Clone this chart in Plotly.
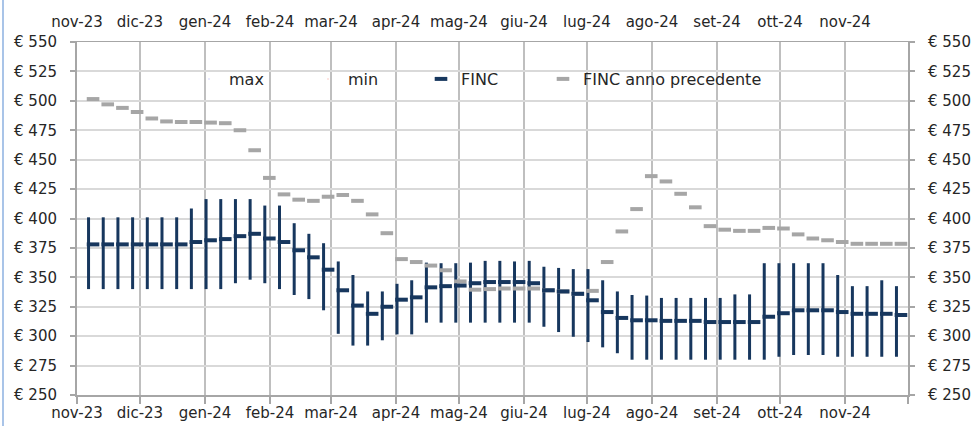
import plotly.graph_objects as go
import pandas as pd

# ---- data (weekly observations, Monday dates) ----
week_dates = pd.date_range("2023-11-06", periods=56, freq="7D")

max_vals = [401, 401, 401, 401, 401, 401, 401, 408.5, 416.5, 416.5,
            416.5, 416.5, 411, 411, 396, 387, 379, 363.5, 352, 338,
            338, 344.5, 347.5, 362.5, 362, 362, 362.5, 364, 364, 363.5,
            364, 359, 358, 357, 357, 347.5, 338, 335, 334.5, 332.5,
            332.5, 332.5, 332.5, 332.5, 335.5, 335.5, 362, 362, 362, 362,
            362, 352, 342.5, 342.5, 347.5, 342.5]

min_vals = [340, 340, 340, 340, 340, 340, 340, 340, 340, 340,
            345, 348, 345, 340, 335, 331.5, 322, 302, 292, 292,
            296.5, 301.5, 301.5, 311.5, 311.5, 311.5, 311.5, 311.5, 311.5, 311.5,
            311.5, 308, 303.5, 299.5, 295, 290.5, 285.5, 280, 280, 280,
            280, 280, 280, 280, 280, 280, 280, 282.5, 284, 284,
            284, 282.5, 282.5, 282.5, 282.5, 282.5]

finc_vals = [378, 378, 378, 378, 378, 378, 378, 380, 381.5, 382.5,
             385, 387, 383, 380, 373, 367, 356.5, 339, 326, 319,
             325, 331, 333, 341.5, 342.5, 343, 345, 346, 346, 346,
             345, 339, 338, 336, 330.5, 320.5, 315.5, 313.5, 313.5, 313,
             313, 313, 312, 312, 312, 312, 316.5, 319.5, 322, 322,
             322, 320.5, 319, 319, 319, 318]

finc_prev_vals = [501.5, 497, 494, 490.5, 485, 482.5, 482, 482, 481.5, 481,
                  475, 458, 434.5, 420.5, 416, 415, 418.5, 420, 415, 403.5,
                  387.5, 365.5, 363, 360, 356, 346.5, 339.5, 340, 340.5, 340.5,
                  340.5, 339, 338, 336, 338.5, 363, 389, 408, 436, 431.5,
                  421, 409.5, 393.5, 390.5, 389.5, 389.5, 392, 391.5, 386.5, 383,
                  381.5, 380, 378.5, 378.5, 378.5, 378.5]

month_ticks = ["2023-11-01", "2023-12-01", "2024-01-01", "2024-02-01", "2024-03-01",
               "2024-04-01", "2024-05-01", "2024-06-01", "2024-07-01", "2024-08-01",
               "2024-09-01", "2024-10-01", "2024-11-01", "2024-12-01"]
month_labels = ["nov-23", "dic-23", "gen-24", "feb-24", "mar-24", "apr-24", "mag-24",
                "giu-24", "lug-24", "ago-24", "set-24", "ott-24", "nov-24", ""]

# ---- styling ----
NAVY = "#17375E"
GRAY = "#A6A6A6"
TEXT = "#262626"
FONT = "DejaVu Sans"

x_bar = week_dates + pd.Timedelta(hours=12)          # centre of the day slot
x_dash = x_bar + pd.Timedelta(days=2.15)             # dash drawn to the right of the bar

hl_x, hl_y = [], []
for d, lo, hi in zip(x_bar, min_vals, max_vals):
    hl_x += [d, d, None]
    hl_y += [lo, hi, None]

fig = go.Figure()

# max / min series (markers invisible, shown in legend by name only)
fig.add_trace(go.Scatter(x=x_bar, y=max_vals, name="max", mode="markers",
                         marker=dict(opacity=0, size=1), xaxis="x2", yaxis="y",
                         legend="legend", hoverinfo="skip"))
fig.add_trace(go.Scatter(x=x_bar, y=min_vals, name="min", mode="markers",
                         marker=dict(opacity=0, size=1), xaxis="x", yaxis="y2",
                         legend="legend2", hoverinfo="skip"))
# high-low lines
fig.add_trace(go.Scatter(x=hl_x, y=hl_y, mode="lines", showlegend=False,
                         line=dict(color=NAVY, width=3), hoverinfo="skip"))
# previous year
fig.add_trace(go.Scatter(x=x_dash, y=finc_prev_vals, name="FINC anno precedente",
                         mode="markers", legend="legend4",
                         marker=dict(symbol="line-ew", size=9,
                                     line=dict(color=GRAY, width=4), color=GRAY)))
# FINC
fig.add_trace(go.Scatter(x=x_dash, y=finc_vals, name="FINC", mode="markers",
                         legend="legend3",
                         marker=dict(symbol="line-ew", size=9,
                                     line=dict(color=NAVY, width=4), color=NAVY)))

L, R, T, B = 77, 65, 42, 31
PW, PH = 973 - L - R, 426 - T - B


def px_x(px):
    return (px - L) / PW


def px_y(py):
    return (426 - B - py) / PH


def legend_at(text_left_px):
    return dict(orientation="h", x=px_x(text_left_px - 39), y=px_y(62),
                xanchor="left", yanchor="top", bgcolor="rgba(0,0,0,0)",
                font=dict(size=16, color=TEXT, family=FONT), itemwidth=30)


xr = ["2023-11-01", "2024-12-01"]
axis_font = dict(size=15, color=TEXT, family=FONT)
fig.update_layout(
    width=973, height=426,
    margin=dict(l=L, r=R, t=T, b=B, pad=0, autoexpand=False),
    paper_bgcolor="white", plot_bgcolor="white",
    font=dict(family=FONT, size=15, color=TEXT),
    xaxis=dict(type="date", range=xr, tickmode="array", tickvals=month_ticks,
               ticktext=month_labels, showgrid=True, gridcolor="#BFBFBF", gridwidth=2,
               ticks="outside", ticklen=7, tickcolor="#A6A6A6", tickwidth=2,
               showline=True, linecolor="#A6A6A6", linewidth=2, zeroline=False,
               ticklabelstandoff=-4, tickfont=axis_font, automargin=False),
    xaxis2=dict(type="date", range=xr, overlaying="x", side="top", anchor="y",
                matches="x", tickmode="array", tickvals=month_ticks,
                ticktext=month_labels, showgrid=False, ticks="",
                showline=True, linecolor="#A6A6A6", linewidth=1,
                ticklabelstandoff=8, tickfont=axis_font, automargin=False),
    yaxis=dict(range=[250, 550], dtick=25, tick0=250, tickprefix="€ ",
               showgrid=True, gridcolor="#D9D9D9", gridwidth=1.5, zeroline=False,
               ticks="outside", ticklen=5, tickcolor="#A6A6A6", tickwidth=2,
               showline=True, linecolor="#A6A6A6", linewidth=2,
               ticklabelstandoff=10, tickfont=axis_font, automargin=False),
    yaxis2=dict(range=[250, 550], dtick=25, tick0=250, tickprefix="€ ",
                overlaying="y", side="right", anchor="x", matches="y",
                showgrid=False, zeroline=False,
                ticks="outside", ticklen=5, tickcolor="#A6A6A6", tickwidth=2,
                showline=True, linecolor="#A6A6A6", linewidth=2,
                ticklabelstandoff=10, tickfont=axis_font, automargin=False),
    legend=legend_at(228),
    legend2=legend_at(347),
    legend3=legend_at(460),
    legend4=legend_at(582),
    showlegend=True,
    shapes=[
        # white legend band over the gridlines
        dict(type="rect", xref="paper", yref="paper", layer="between",
             x0=px_x(142), x1=px_x(842), y0=px_y(88), y1=px_y(62),
             fillcolor="white", line=dict(width=0)),
        # thin frame line at the left edge of the picture
        dict(type="line", xref="paper", yref="paper",
             x0=px_x(3), x1=px_x(3), y0=px_y(430), y1=px_y(-4),
             line=dict(color="#A9C4E8", width=2)),
    ],
)

fig.write_html("out.html")
